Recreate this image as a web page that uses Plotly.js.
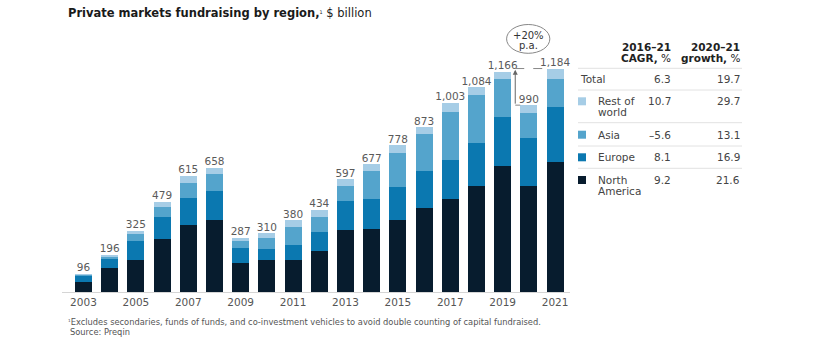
<!DOCTYPE html>
<html>
<head>
<meta charset="utf-8">
<script src="https://cdn.plot.ly/plotly-3.0.1.min.js"></script>
<style>html,body{margin:0;padding:0;background:#fff;}#chart{width:814px;height:345px;}</style>
</head>
<body>
<div id="chart"></div>
<script>
// ---- data ----
const years = [2003,2004,2005,2006,2007,2008,2009,2010,2011,2012,2013,2014,2015,2016,2017,2018,2019,2020,2021];
const northAmerica = [54,128,172,281,356,379,154,172,172,219,330,332,383,445,492,562,668,564,687];
const europe       = [32,48,97,118,143,155,77,56,76,97,153,160,171,197,209,229,257,252,294];
const asia         = [4,11,39,54,78,91,41,58,97,84,81,149,183,197,252,255,206,130,148];
const restOfWorld  = [6,9,17,26,38,33,15,24,35,34,33,36,41,34,50,38,35,44,55];
const totals       = [96,196,325,479,615,658,287,310,380,434,597,677,778,873,1003,1084,1166,990,1184];
const tickYears = [2003,2005,2007,2009,2011,2013,2015,2017,2019,2021];

const seriesNames = ["North America","Europe","Asia","Rest of world"];
const seriesColors = ["#071c2e","#0b78b0","#54a4cc","#a6cde6"];

const tableRows = [["Total"],["Rest of","world"],["Asia"],["Europe"],["North","America"]];
const tableSwatch = [null,"#a6cde6","#54a4cc","#0b78b0","#071c2e"];
const cagr   = [6.3,10.7,-5.6,8.1,9.2];
const growth = [19.7,29.7,13.1,16.9,21.6];
const growthNote = ["+20%","p.a."];

// ---- layout helpers ----
const L=62, T=24, W=508, H=268, YMAX=1420;
const px = x => (x-L)/W;
const py = y => 1-(y-T)/H;
const yv = y => (T+H-y)*YMAX/H;
const FONT = "DejaVu Sans, Verdana, sans-serif";
const fmt = v => (v<0?"–":"")+Math.abs(v).toFixed(1);

const series = [northAmerica, europe, asia, restOfWorld];
const traces = series.map((vals,i)=>({
  type:"bar", x:years, y:vals, name:seriesNames[i],
  marker:{color:seriesColors[i], line:{width:0}}, hoverinfo:"skip"
}));
traces.push({
  type:"scatter", mode:"text", x:years, y:totals,
  texttemplate:"%{y:,}", textposition:"top center",
  textfont:{family:FONT, size:10.5, color:"#5a5a5a"}, cliponaxis:false, hoverinfo:"skip", showlegend:false
});

const annotations = [];
const shapes = [];

// title
annotations.push({xref:"paper",yref:"paper",x:px(66),y:py(13),xanchor:"left",yanchor:"middle",showarrow:false,
  text:"<b>Private markets fundraising by region,</b><span style=\"font-size:7px\"><sup>1</sup></span> $ billion",
  font:{family:FONT,size:11.5,color:"#1a1a1a"}});

// footnote
annotations.push({xref:"paper",yref:"paper",x:px(66),y:py(321.5),xanchor:"left",yanchor:"middle",showarrow:false,
  text:"<span style=\"font-size:6px\"><sup>1</sup></span>Excludes secondaries, funds of funds, and co-investment vehicles to avoid double counting of capital fundraised.",
  font:{family:FONT,size:8.3,color:"#555"}});
annotations.push({xref:"paper",yref:"paper",x:px(68),y:py(331.5),xanchor:"left",yanchor:"middle",showarrow:false,
  text:"Source: Preqin", font:{family:FONT,size:8.3,color:"#555"}});

// growth annotation (arrow from 2020 level up to 2021 level)
const i19 = years.indexOf(2019), i20 = years.indexOf(2020), i21 = years.indexOf(2021);
const xArrow = years[i19]+0.48;
shapes.push({type:"line",xref:"x",yref:"y",x0:xArrow,x1:years[i20]-0.33,y0:totals[i20],y1:totals[i20],line:{color:"#888",width:1}});
shapes.push({type:"line",xref:"x",yref:"y",x0:xArrow,x1:years[i21]-0.33,y0:totals[i21],y1:totals[i21],line:{color:"#888",width:1,dash:"dash"}});
annotations.push({xref:"x",yref:"y",axref:"x",ayref:"y",x:xArrow,y:totals[i21]-6,ax:xArrow,ay:totals[i20],
  showarrow:true,arrowhead:2,arrowsize:1,arrowwidth:1,arrowcolor:"#666",text:""});
shapes.push({type:"circle",xref:"x",yref:"y",x0:2019.15,x1:2020.8,y0:yv(53.3),y1:yv(24.5),line:{color:"#888",width:1}});
annotations.push({xref:"x",yref:"y",x:2019.98,y:yv(35.5),showarrow:false,text:growthNote[0],font:{family:FONT,size:10,color:"#333"}});
annotations.push({xref:"x",yref:"y",x:2019.98,y:yv(45),showarrow:false,text:growthNote[1],font:{family:FONT,size:10,color:"#333"}});

// table headers
const col1 = 673, col2 = 742, labelX = 596, tableLeft = 578;
const hdr = [[col1,46.7,"<b>2016–21</b>"],[col1,57.5,"<b>CAGR,</b> %"],[col2,46.7,"<b>2020–21</b>"],[col2,57.5,"<b>growth,</b> %"]];
hdr.forEach(h=>annotations.push({xref:"paper",yref:"paper",x:px(h[0]),y:py(h[1]),xanchor:"right",yanchor:"middle",showarrow:false,
  text:h[2],font:{family:FONT,size:10.5,color:"#222"}}));

const rowY = [79.3,101.3,134.7,157.3,180];
const lineGap = 11;
const dividers = [68.3,90,122.7,146,168.3];
dividers.forEach(y=>shapes.push({type:"line",xref:"paper",yref:"paper",x0:px(tableLeft),x1:px(col2),y0:py(y),y1:py(y),line:{color:"#e2e2e2",width:1}}));

tableRows.forEach((lines,r)=>{
  const y0 = rowY[r];
  lines.forEach((t,k)=>annotations.push({xref:"paper",yref:"paper",x:px(tableSwatch[r]?labelX:tableLeft),y:py(y0+k*lineGap),
    xanchor:"left",yanchor:"middle",showarrow:false,text:t,font:{family:FONT,size:10.5,color:"#444"}}));
  if(tableSwatch[r]){
    shapes.push({type:"rect",xref:"paper",yref:"paper",x0:px(578),x1:px(586),y0:py(y0-4),y1:py(y0+4),fillcolor:tableSwatch[r],line:{width:0}});
  }
  annotations.push({xref:"paper",yref:"paper",x:px(col1),y:py(y0),xanchor:"right",yanchor:"middle",showarrow:false,
    text:fmt(cagr[r]),font:{family:FONT,size:10.5,color:"#444"}});
  annotations.push({xref:"paper",yref:"paper",x:px(col2),y:py(y0),xanchor:"right",yanchor:"middle",showarrow:false,
    text:fmt(growth[r]),font:{family:FONT,size:10.5,color:"#444"}});
});

const layout = {
  width:814, height:345,
  margin:{l:L, r:814-L-W, t:T, b:345-T-H, pad:0},
  paper_bgcolor:"#fff", plot_bgcolor:"#fff",
  barmode:"stack", bargap:0.35, showlegend:false,
  font:{family:FONT,color:"#555"},
  xaxis:{range:[2002.18,2021.57], tickvals:tickYears, ticktext:tickYears.map(String), showgrid:false, zeroline:false,
    showline:true, linecolor:"#d5d5d5", linewidth:1, ticks:"", tickfont:{family:FONT,size:10.5,color:"#555"}, fixedrange:true},
  yaxis:{range:[0,YMAX], visible:false, showgrid:false, zeroline:false, fixedrange:true},
  annotations:annotations, shapes:shapes
};

Plotly.newPlot("chart", traces, layout, {staticPlot:true, displayModeBar:false});
</script>
</body>
</html>
